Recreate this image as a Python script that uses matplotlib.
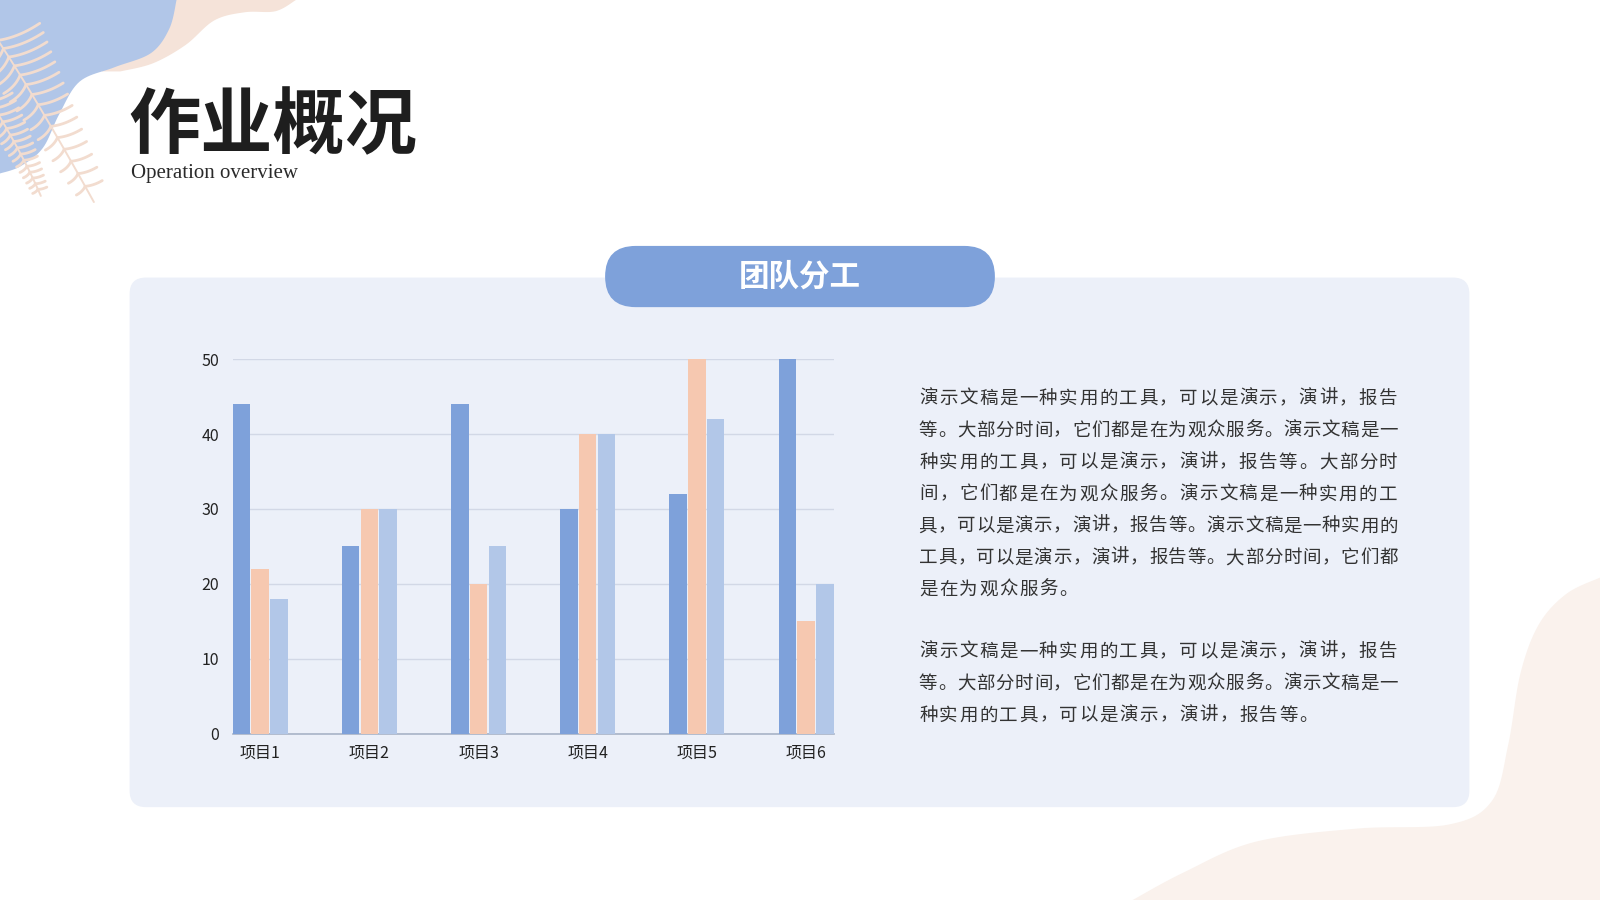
import numpy as np
import matplotlib
matplotlib.use('Agg')
import matplotlib.pyplot as plt
from matplotlib.patches import FancyBboxPatch, Polygon

plt.rcParams['font.family'] = ['Noto Sans CJK SC', 'DejaVu Sans']

# chart data
categories = ['项目1', '项目2', '项目3', '项目4', '项目5', '项目6']
series_a = [44, 25, 44, 30, 32, 50]
series_b = [22, 30, 20, 40, 50, 15]
series_c = [18, 30, 25, 40, 42, 20]
y_ticks = [0, 10, 20, 30, 40, 50]

title = '作业概况'
subtitle = 'Operation overview'
tab_title = '团队分工'
para1 = ['演示文稿是一种实用的工具，可以是演示，演讲，报告',
         '等。大部分时间，它们都是在为观众服务。演示文稿是一',
         '种实用的工具，可以是演示，演讲，报告等。大部分时',
         '间，它们都是在为观众服务。演示文稿是一种实用的工',
         '具，可以是演示，演讲，报告等。演示文稿是一种实用的',
         '工具，可以是演示，演讲，报告等。大部分时间，它们都',
         '是在为观众服务。']
para2 = ['演示文稿是一种实用的工具，可以是演示，演讲，报告',
         '等。大部分时间，它们都是在为观众服务。演示文稿是一',
         '种实用的工具，可以是演示，演讲，报告等。']

W, H = 1568, 882
BLUE = '#7EA1DA'
PEACH = '#F6C8B0'
LIGHT = '#B2C7E8'
FERN = '#F2DCCF'


def smooth(pts, n=12):
    """catmull-rom through outline points (open), for the decorative blobs"""
    pts = np.asarray(pts, float)
    p = np.vstack([pts[0], pts, pts[-1]])
    out = []
    for i in range(1, len(p) - 2):
        for t in np.linspace(0, 1, n, endpoint=False):
            t2, t3 = t * t, t * t * t
            out.append(0.5 * ((2 * p[i]) + (-p[i - 1] + p[i + 1]) * t +
                              (2 * p[i - 1] - 5 * p[i] + 4 * p[i + 1] - p[i + 2]) * t2 +
                              (-p[i - 1] + 3 * p[i] - 3 * p[i + 1] + p[i + 2]) * t3))
    out.append(pts[-1])
    return np.array(out)


def main():
    fig = plt.figure(figsize=(16, 9), dpi=100, facecolor='white')
    bg = fig.add_axes([0, 0, 1, 1], zorder=0)
    bg.set_xlim(0, W)
    bg.set_ylim(H, 0)
    bg.axis('off')

    # decorative blobs
    edge = smooth([(290, 0), (270, 11), (240, 12), (210, 20), (182, 44),
                   (150, 62), (118, 70)])
    bg.add_patch(Polygon(np.vstack([[(100, 0)], edge, [(100, 70)]]), closed=True,
                         fc='#F5E3D9', ec='none', zorder=1))
    edge = smooth([(173, 0), (166, 28), (148, 52), (112, 66), (78, 80),
                   (58, 112), (42, 145), (20, 163), (0, 170)])
    bg.add_patch(Polygon(np.vstack([[(0, 0)], edge]), closed=True,
                         fc='#B1C6E8', ec='none', zorder=2))
    edge = smooth([(1110, 882), (1160, 855), (1230, 825), (1330, 812),
                   (1420, 808), (1462, 785), (1478, 730), (1490, 660),
                   (1508, 612), (1535, 582), (1568, 566)])
    bg.add_patch(Polygon(np.vstack([edge, [(1568, 882)]]), closed=True,
                         fc='#FAF2ED', ec='none', zorder=1))

    # fern fronds
    for p0, p1, p2, ln in [((-5, 35), (35, 95), (92, 198), 42),
                           ((-12, 95), (22, 150), (40, 192), 22)]:
        t = np.linspace(0, 1, 80)
        sx = (1 - t) ** 2 * p0[0] + 2 * (1 - t) * t * p1[0] + t ** 2 * p2[0]
        sy = (1 - t) ** 2 * p0[1] + 2 * (1 - t) * t * p1[1] + t ** 2 * p2[1]
        bg.plot(sx, sy, color=FERN, lw=1.4, zorder=3, solid_capstyle='round')
        for k in range(3, 78, 5):
            dx, dy = sx[k + 1] - sx[k - 1], sy[k + 1] - sy[k - 1]
            ang = np.arctan2(dy, dx)
            L = ln * (1 - 0.65 * t[k])
            for side in (-1, 1):
                a = ang - side * np.radians(60)
                s = np.linspace(0, 1, 12)
                bend = 0.25 * L * s * (1 - s) * side
                lx = sx[k] + L * s * np.cos(a) - bend * np.sin(a)
                ly = sy[k] + L * s * np.sin(a) + bend * np.cos(a) - 0.35 * L * s
                bg.plot(lx, ly, color=FERN, lw=2.0, zorder=3,
                        solid_capstyle='round')

    # titles
    bg.text(126, 124, title, fontsize=52, fontweight='bold', color='#1E1E1E',
            ha='left', va='center', zorder=5)
    bg.text(128, 170, subtitle, fontsize=15, family='Liberation Serif',
            color='#2A2A2A', ha='left', va='center', zorder=5)

    # panel and tab
    bg.add_patch(FancyBboxPatch((127, 272), 1313, 519,
                                boxstyle='round,pad=0,rounding_size=16',
                                fc='#ECF0F9', ec='none', zorder=4))
    bg.add_patch(FancyBboxPatch((593, 241), 382, 60,
                                boxstyle='round,pad=0,rounding_size=30',
                                fc=BLUE, ec='none', zorder=5))
    bg.text(784, 271, tab_title, fontsize=22, fontweight='bold', color='white',
            ha='center', va='center', zorder=6)

    # body text, justified lines laid out per character
    x0, x1 = 900, 1370
    cell = 19.6
    for lines, ystart in [(para1, 391), (para2, 639)]:
        for i, line in enumerate(lines):
            y = ystart + i * 31.2
            n = len(line)
            step = (x1 - x0) / n if i < len(lines) - 1 else cell
            for k, ch in enumerate(line):
                bg.text(x0 + (k + 0.5) * step, y, ch, fontsize=13.3,
                        color='#333333', ha='center', va='center', zorder=6)

    # bar chart
    ax = fig.add_axes([228 / W, 1 - 719 / H, 589 / W, 367 / H], zorder=2)
    ax.set_facecolor('none')
    x = np.arange(len(categories))
    off, bw = 0.172, 0.16
    ax.bar(x - off, series_a, bw, color=BLUE, zorder=3)
    ax.bar(x, series_b, bw, color=PEACH, zorder=3)
    ax.bar(x + off, series_c, bw, color=LIGHT, zorder=3)
    ax.set_xlim(-0.252, 5.252)
    ax.set_ylim(0, 50)
    ax.set_yticks(y_ticks)
    ax.set_xticks(x)
    ax.set_xticklabels(categories)
    ax.grid(axis='y', color='#D2D8E6', lw=1, zorder=0)
    for s in ('top', 'right', 'left'):
        ax.spines[s].set_visible(False)
    ax.spines['bottom'].set_color('#A8B3C7')
    ax.spines['bottom'].set_linewidth(1.2)
    ax.tick_params(length=0, labelsize=11.5, colors='#222222')
    ax.tick_params(axis='y', pad=10)
    ax.tick_params(axis='x', pad=8)

    fig.savefig('out.png', dpi=100, facecolor='white')


if __name__ == '__main__':
    main()
